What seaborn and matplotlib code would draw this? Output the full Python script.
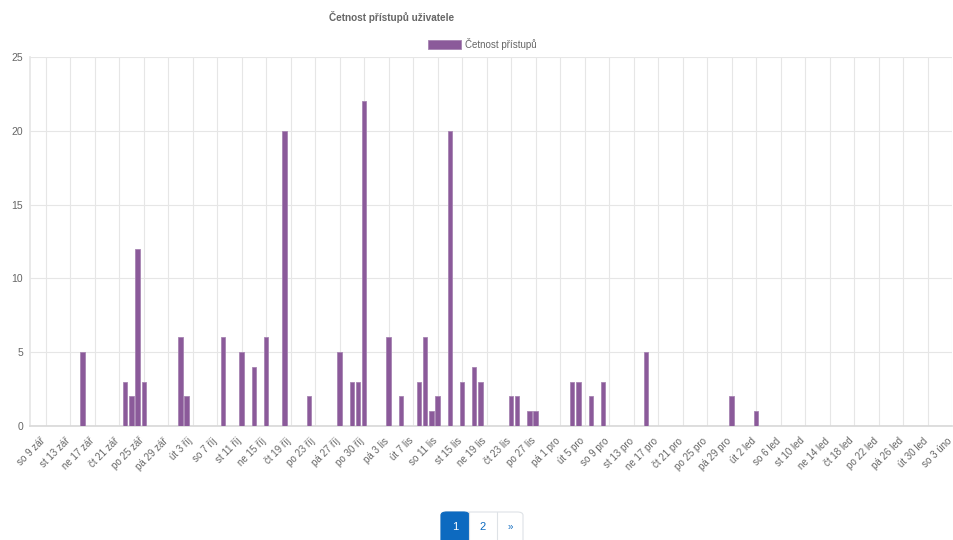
'''Četnost přístupů uživatele - denní sloupcový graf'''
import datetime as dt
import matplotlib
matplotlib.use('Agg')
import matplotlib.pyplot as plt
import matplotlib.dates as mdates
from matplotlib.patches import FancyBboxPatch
import pandas as pd
import seaborn as sns

# Data (date -> number of accesses)
access_dates = [
    '2023-09-15', '2023-09-22', '2023-09-23', '2023-09-24', '2023-09-25',
    '2023-10-01', '2023-10-02', '2023-10-08', '2023-10-11', '2023-10-13',
    '2023-10-15', '2023-10-18', '2023-10-22', '2023-10-27', '2023-10-29',
    '2023-10-30', '2023-10-31', '2023-11-04', '2023-11-06', '2023-11-09',
    '2023-11-10', '2023-11-11', '2023-11-12', '2023-11-14', '2023-11-16',
    '2023-11-18', '2023-11-19', '2023-11-24', '2023-11-25', '2023-11-27',
    '2023-11-28', '2023-12-04', '2023-12-05', '2023-12-07', '2023-12-09',
    '2023-12-16', '2023-12-30', '2024-01-03',
]
access_counts = [
    5, 3, 2, 12, 3,
    6, 2, 6, 5, 4,
    6, 20, 2, 5, 3,
    3, 22, 6, 2, 3,
    6, 1, 2, 20, 3,
    4, 3, 2, 2, 1,
    1, 3, 3, 2, 3,
    5, 2, 1,
]

# x tick labels, one every 4 days starting at 9. 9. 2023
tick_start = '2023-09-09'
tick_labels = [
    'so 9 zář', 'st 13 zář', 'ne 17 zář', 'čt 21 zář', 'po 25 zář', 'pá 29 zář',
    'út 3 říj', 'so 7 říj', 'st 11 říj', 'ne 15 říj', 'čt 19 říj', 'po 23 říj',
    'pá 27 říj', 'po 30 říj', 'pá 3 lis', 'út 7 lis', 'so 11 lis', 'st 15 lis',
    'ne 19 lis', 'čt 23 lis', 'po 27 lis', 'pá 1 pro', 'út 5 pro', 'so 9 pro',
    'st 13 pro', 'ne 17 pro', 'čt 21 pro', 'po 25 pro', 'pá 29 pro', 'út 2 led',
    'so 6 led', 'st 10 led', 'ne 14 led', 'čt 18 led', 'po 22 led', 'pá 26 led',
    'út 30 led', 'so 3 úno',
]
y_ticks = [0, 5, 10, 15, 20, 25]

series_name = 'Četnost přístupů'
title = 'Četnost přístupů uživatele'

BAR_COLOR = '#8b5a9a'
GRID_COLOR = '#e6e6e6'
TEXT_COLOR = '#666666'

sns.set_theme(style='white')
plt.rcParams['font.family'] = ['Liberation Sans', 'DejaVu Sans']

df = pd.DataFrame({
    'day': mdates.date2num(pd.to_datetime(access_dates)),
    'count': access_counts,
})

fig = plt.figure(figsize=(9.54, 5.4), dpi=100)
ax = fig.add_axes([30 / 954, 114 / 540, 922 / 954, 369 / 540])

sns.barplot(
    data=df, x='day', y='count', native_scale=True, width=0.7,
    color=BAR_COLOR, edgecolor='#a784b2', linewidth=0.6,
    saturation=1, label=series_name, ax=ax, zorder=3
)

# grid lines every 4 days; labels sit on minor ticks a little to the left,
# like chart.js does with rotated labels
start = mdates.date2num(dt.datetime.fromisoformat(tick_start))
tick_pos = [start + 4 * i for i in range(len(tick_labels))]
label_pos = [p - 0.85 for p in tick_pos]
ax.set_xticks(tick_pos)
ax.set_xticklabels([''] * len(tick_pos))
ax.set_xticks(label_pos, minor=True)
ax.set_xticklabels(tick_labels, minor=True, rotation=45, ha='right',
                   rotation_mode='anchor', fontsize=7, color=TEXT_COLOR)
ax.set_xlim(start - 2.56, tick_pos[-1])

ax.set_yticks(y_ticks)
ax.set_yticklabels([str(v) for v in y_ticks], fontsize=7.5, color=TEXT_COLOR)
ax.set_ylim(0, 25)

ax.set_xlabel('')
ax.set_ylabel('')
ax.grid(True, which='major', color=GRID_COLOR, linewidth=0.8, zorder=0)
ax.set_axisbelow(True)
ax.tick_params(axis='x', which='major', length=6, color=GRID_COLOR)
ax.tick_params(axis='x', which='minor', length=0, pad=7)
ax.tick_params(axis='y', length=0, pad=5)
for side in ['top', 'right']:
    ax.spines[side].set_visible(False)
ax.spines['left'].set_color(GRID_COLOR)
ax.spines['bottom'].set_color('#d9d9d9')
if ax.legend_:
    ax.legend_.remove()

fig.text(329 / 954, 1 - 17 / 540, title, fontsize=7.2, fontweight='bold',
         color=TEXT_COLOR, ha='left', va='center')

handles, labels = ax.get_legend_handles_labels()
fig.legend(handles[:1], labels[:1], loc='center', bbox_to_anchor=(482 / 954, 1 - 44 / 540),
           frameon=False, fontsize=7, handlelength=3.4, handleheight=1.0,
           handletextpad=0.4, labelcolor=TEXT_COLOR)

# pagination buttons under the chart
buttons = [('1', 441, 469, True), ('2', 469, 497, False), ('»', 497, 523, False)]
outline = FancyBboxPatch((441 / 954, -10 / 540), 82 / 954, 38 / 540,
                         boxstyle='round,pad=0,rounding_size=0.006',
                         transform=fig.transFigure, facecolor='white',
                         edgecolor='#dee2e6', linewidth=0.8)
fig.patches.append(outline)
for txt, x0, x1, active in buttons:
    if active:
        box = FancyBboxPatch((x0 / 954, -10 / 540), (x1 - x0) / 954, 38 / 540,
                             boxstyle='round,pad=0,rounding_size=0.006',
                             transform=fig.transFigure, facecolor='#0d6ac0',
                             edgecolor='#0d6ac0', linewidth=0.8)
        fig.patches.append(box)
    else:
        fig.add_artist(plt.Line2D([x0 / 954, x0 / 954], [0, 28 / 540],
                                  color='#dee2e6', linewidth=0.8,
                                  transform=fig.transFigure))
    fig.text((x0 + x1) / 2 / 954, 13 / 540, txt, ha='center', va='center',
             fontsize=8 if txt != '»' else 7,
             color='white' if active else '#0d6ac0')

fig.savefig('out.png', dpi=100)
